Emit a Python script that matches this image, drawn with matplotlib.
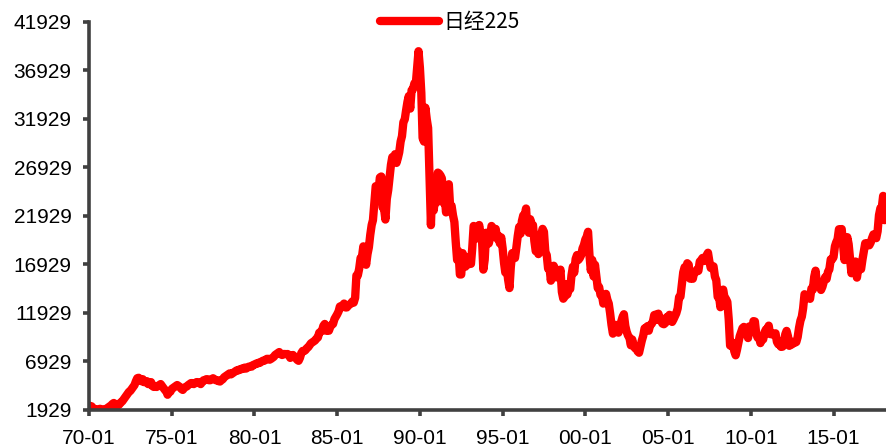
import matplotlib
matplotlib.use("Agg")
import matplotlib.pyplot as plt
import matplotlib.dates as mdates
import numpy as np
import pandas as pd

plt.rcParams['font.family'] = ['Liberation Sans', 'Noto Sans CJK SC', 'DejaVu Sans']

# Nikkei 225 month-end levels, one row per year (1970 .. 2018)
nikkei_by_year = {
    1970: [2400, 2300, 2300, 2100, 1990, 1960, 2000, 2000, 2050, 2000, 1990, 1987],
    1971: [2000, 2100, 2200, 2300, 2400, 2550, 2650, 2400, 2350, 2400, 2500, 2714],
    1972: [2800, 3000, 3200, 3400, 3600, 3800, 3900, 4100, 4300, 4500, 4900, 5208],
    1973: [5250, 5000, 4900, 5100, 4800, 4800, 4900, 4600, 4600, 4800, 4400, 4306],
    1974: [4400, 4300, 4400, 4500, 4600, 4400, 4200, 4000, 3900, 3500, 3800, 3817],
    1975: [4100, 4200, 4300, 4400, 4500, 4400, 4300, 4100, 4000, 4200, 4300, 4359],
    1976: [4500, 4600, 4700, 4700, 4600, 4700, 4800, 4800, 4700, 4600, 4800, 4990],
    1977: [5000, 5100, 5100, 5000, 5000, 5100, 5200, 5100, 5000, 5000, 4900, 4866],
    1978: [5000, 5100, 5300, 5400, 5500, 5600, 5700, 5600, 5700, 5800, 5900, 6001],
    1979: [6000, 6100, 6100, 6200, 6200, 6300, 6200, 6300, 6400, 6400, 6400, 6569],
    1980: [6600, 6700, 6700, 6800, 6800, 6900, 7000, 7000, 7100, 7200, 7200, 7116],
    1981: [7200, 7300, 7400, 7600, 7700, 7800, 7900, 7700, 7600, 7700, 7700, 7681],
    1982: [7700, 7600, 7300, 7400, 7600, 7400, 7300, 7100, 7000, 7300, 7800, 8016],
    1983: [8000, 8100, 8300, 8400, 8600, 8800, 8900, 9000, 9100, 9300, 9400, 9893],
    1984: [10000, 10100, 10600, 10800, 10100, 10300, 10100, 10500, 10700, 10800, 11300, 11542],
    1985: [11800, 12100, 12600, 12500, 12700, 12900, 12500, 12500, 12700, 12800, 12900, 13113],
    1986: [13000, 13500, 15800, 15800, 16500, 17600, 17700, 18800, 17800, 16900, 18000, 18701],
    1987: [20000, 21000, 21500, 23300, 25000, 25000, 24500, 25900, 26000, 22800, 22700, 21564],
    1988: [23700, 24600, 25900, 27200, 28000, 27800, 28300, 27400, 27900, 28500, 29600, 30159],
    1989: [31600, 31900, 32800, 33700, 34300, 33000, 34900, 35000, 35600, 35500, 37300, 38916],
    1990: [37200, 34600, 29980, 29600, 33100, 31900, 31000, 25900, 20984, 25200, 22500, 23849],
    1991: [23300, 26400, 26300, 26100, 25800, 23300, 23900, 22300, 23900, 25200, 22700, 22984],
    1992: [22000, 21300, 19300, 17400, 18300, 15900, 15900, 18100, 17400, 16700, 17700, 16925],
    1993: [17000, 17000, 18600, 20900, 20600, 19600, 20400, 21000, 20100, 19700, 16400, 17417],
    1994: [20200, 19100, 19100, 19700, 20900, 20600, 20400, 20600, 19600, 19900, 19100, 19723],
    1995: [18600, 17100, 16100, 16800, 15400, 14500, 16700, 18100, 17900, 17600, 18700, 19868],
    1996: [20800, 20100, 21400, 22000, 21900, 22700, 20700, 20200, 21600, 21000, 21000, 19361],
    1997: [18300, 18600, 18000, 19200, 20000, 20600, 20300, 18200, 17900, 16500, 16600, 15259],
    1998: [16600, 16800, 16500, 15600, 15700, 15800, 16400, 14100, 13400, 13600, 14900, 13842],
    1999: [14500, 14400, 15800, 16700, 16100, 17500, 17900, 17400, 17600, 17900, 18600, 18934],
    2000: [19500, 19800, 20300, 17900, 16300, 17400, 15700, 16900, 15700, 14500, 14600, 13786],
    2001: [13800, 12900, 13000, 13900, 13300, 12900, 11900, 10700, 9800, 10400, 10700, 10543],
    2002: [9900, 10600, 11000, 11500, 11800, 10600, 10000, 9600, 9400, 8600, 9200, 8579],
    2003: [8300, 8400, 7973, 7831, 8425, 9083, 9563, 10344, 10219, 10560, 10101, 10677],
    2004: [10784, 11042, 11715, 11762, 11236, 11859, 11326, 11082, 10824, 10771, 10899, 11489],
    2005: [11388, 11740, 11669, 11009, 11277, 11584, 11900, 12414, 13574, 13607, 14872, 16111],
    2006: [16650, 16205, 17060, 16906, 15467, 15505, 15457, 16141, 16128, 16399, 16274, 17226],
    2007: [17383, 17604, 17288, 17400, 17876, 18138, 17249, 16569, 16786, 16737, 15681, 15308],
    2008: [13592, 13603, 12526, 13850, 14339, 13481, 13377, 13073, 11260, 8577, 8512, 8860],
    2009: [7994, 7568, 8110, 8828, 9523, 9958, 10357, 10493, 10133, 10035, 9346, 10546],
    2010: [10198, 10126, 11090, 11057, 9769, 9383, 9537, 8824, 9369, 9202, 9937, 10229],
    2011: [10238, 10624, 9755, 9850, 9694, 9816, 9833, 8955, 8700, 8988, 8434, 8455],
    2012: [8803, 9723, 10083, 9521, 8543, 9007, 8695, 8840, 8870, 8928, 9446, 10395],
    2013: [11139, 11559, 12398, 13861, 13775, 13677, 13668, 13389, 14456, 14328, 15662, 16291],
    2014: [14915, 14841, 14828, 14304, 14632, 15162, 15621, 15425, 16174, 16414, 17460, 17451],
    2015: [17674, 18798, 19207, 19520, 20563, 20236, 20585, 18890, 17388, 19083, 19747, 19034],
    2016: [17518, 16027, 16759, 16666, 17235, 15576, 16569, 16887, 16450, 17425, 18308, 19114],
    2017: [19041, 19119, 18909, 19197, 19651, 20033, 19925, 19646, 20356, 22012, 22725, 22765],
    2018: [24000, 21500],
}

levels = []
for year in sorted(nikkei_by_year):
    levels.extend(nikkei_by_year[year])
dates = pd.date_range("1970-01-01", periods=len(levels), freq="MS")

series_name = "日经225"
y_ticks = list(range(1929, 41930, 5000))
x_tick_years = list(range(1970, 2016, 5))

fig = plt.figure(figsize=(8.86, 4.47), dpi=100)
ax = fig.add_axes([0.1005, 0.0828, 0.8995, 0.868])

ax.plot(dates, levels, color="#ff0000", lw=6, solid_capstyle="round",
        solid_joinstyle="round", label=series_name)

ax.set_ylim(1929, 41929)
ax.set_yticks(y_ticks)
ax.set_xlim(pd.Timestamp("1970-01-01"), pd.Timestamp("2018-03-05"))
ax.set_xticks([pd.Timestamp(f"{y}-01-01") for y in x_tick_years])
ax.xaxis.set_major_formatter(mdates.DateFormatter("%y-%m"))

for side in ("top", "right"):
    ax.spines[side].set_visible(False)
for side in ("left", "bottom"):
    ax.spines[side].set_color("#404040")
    ax.spines[side].set_linewidth(2.6)
ax.tick_params(axis="both", colors="#404040", width=2.6, length=4.5,
               labelsize=15, labelcolor="black")
ax.tick_params(axis="y", pad=8)
ax.tick_params(axis="x", pad=9)

leg = ax.legend(loc="center", bbox_to_anchor=(0.453, 1.0), frameon=False,
                handlelength=2.8, handletextpad=0.25, borderaxespad=0,
                prop={"family": ["Noto Sans CJK SC", "DejaVu Sans"], "size": 15})
for line in leg.get_lines():
    line.set_solid_capstyle("round")

fig.savefig("out.png", dpi=100)
